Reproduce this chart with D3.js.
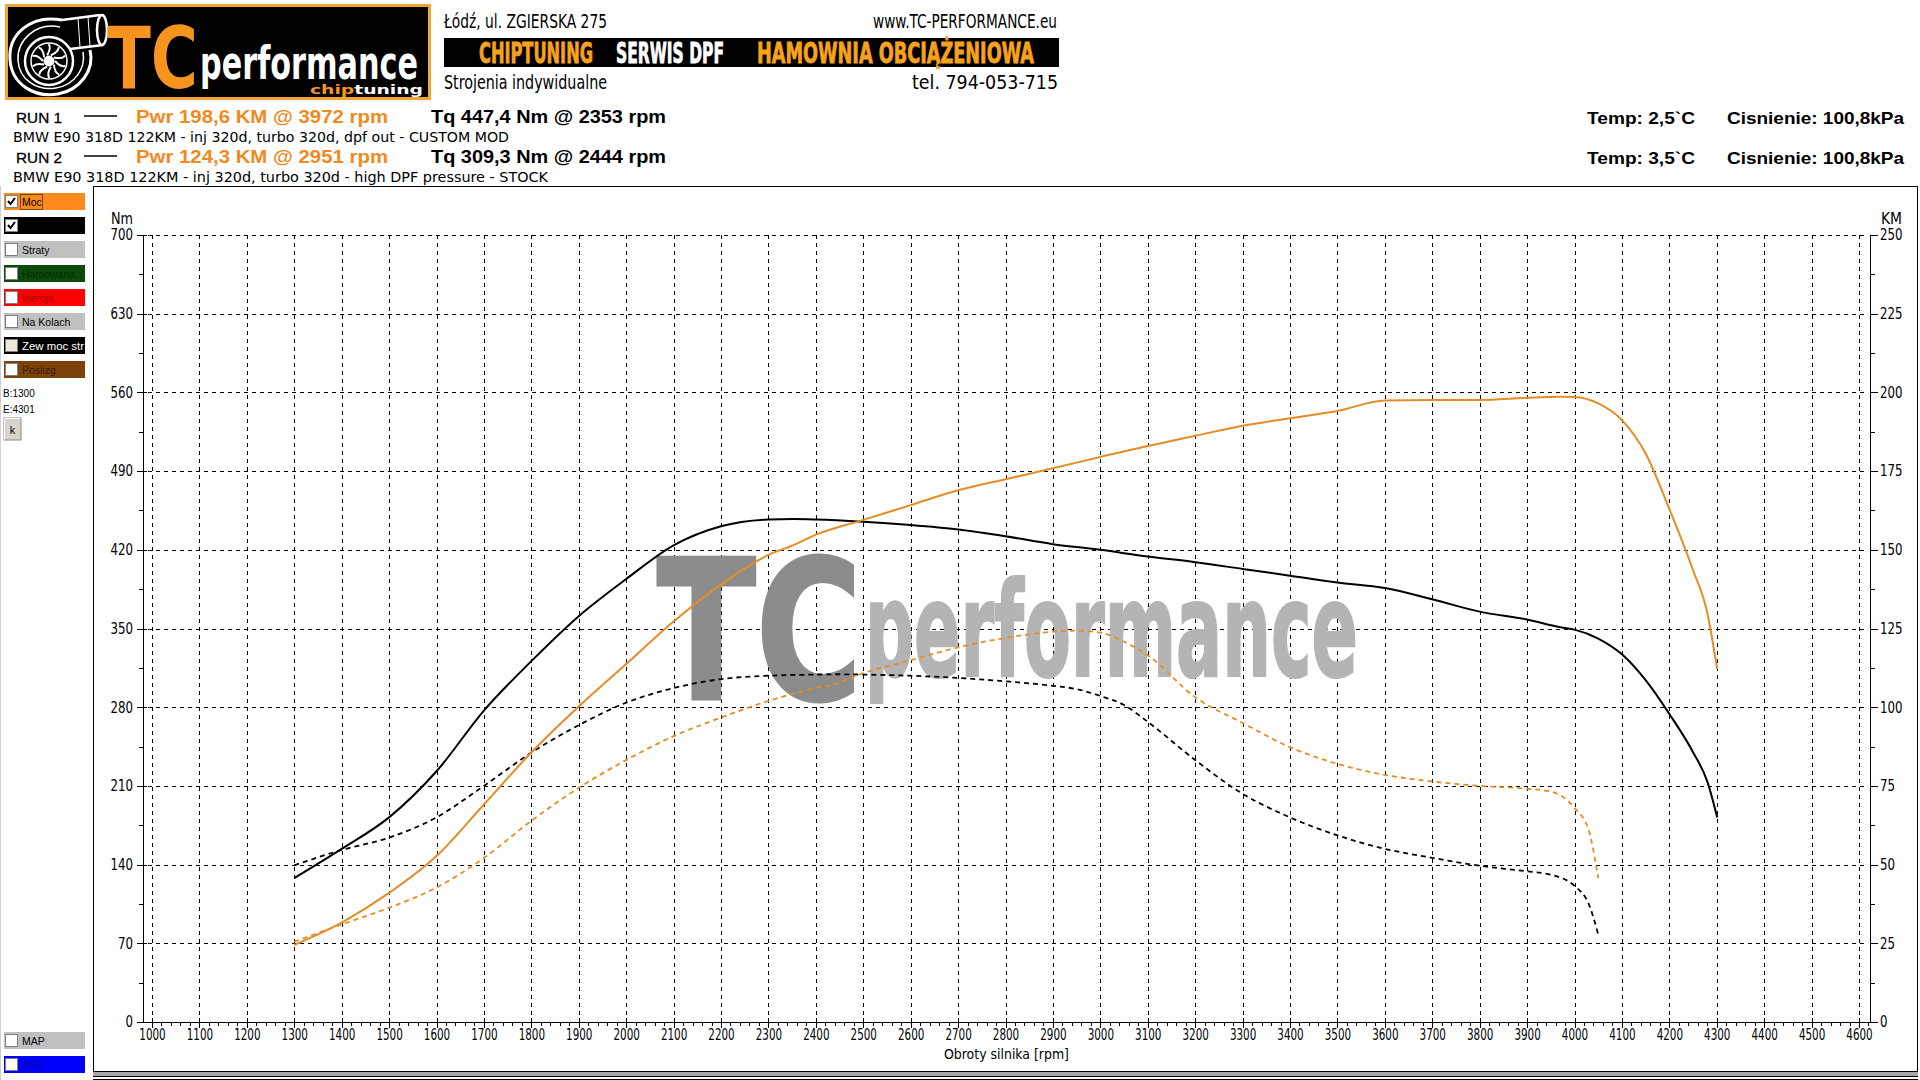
<!DOCTYPE html>
<html><head><meta charset="utf-8">
<script src="https://cdn.jsdelivr.net/npm/d3@7"></script>
<style>body{margin:0;background:#fff}svg{display:block}</style>
</head><body>
<svg id="c" width="1920" height="1080"></svg>
<script>
// ---------------- DATA ----------------
const run1Rpm   = [1300,1400,1500,1600,1700,1800,1900,2000,2100,2200,2300,2353,2400,2500,2600,2700,2800,2900,3000,3100,3200,3300,3400,3500,3600,3700,3800,3900,3972,4000,4050,4100,4150,4200,4250,4280,4301];
const run1Torque= [128,154,182,223,277,321,361,394,424,441,447,447.4,447,445,442,438,432,425,420,414,409,403,397,391,386,376,365,358,351,349,341,327,304,274,240,214,182];
const run1Power = [24.5,31.6,41.0,52.7,69.1,85.6,100.2,113.7,127.2,139.0,148.4,151.5,154.8,159.5,164.2,168.9,172.4,175.9,179.5,183.0,186.2,189.4,191.8,194.1,197.4,197.6,197.6,198.3,198.6,198.5,196.5,191.2,180.6,163.0,143.5,130.0,112.0];
const run2Rpm   = [1300,1400,1500,1600,1700,1800,1900,2000,2100,2200,2300,2400,2444,2500,2600,2700,2800,2900,2951,3000,3050,3100,3200,3300,3400,3500,3600,3700,3800,3900,3950,4000,4030,4050];
const run2Torque= [139.4,153,164,182,210,239.6,264,284,297,305,308,309,309.3,309,308,306,303,299,296,290,282,267,233,203,182,166,154,146,139,134,131,121,105,78];
const run2Power = [25.5,31,36.3,42.7,52.1,63.9,74.4,83.2,90.8,96.7,102,106.1,107.6,110.8,114.9,119,122,124,124.3,123.7,120.8,116.5,103.2,95,87.3,82,78.5,76.4,75,74.1,73.2,68,60.9,45.7];
const rpmTicks  = d3.range(1000,4601,100);
const rpmMinor  = d3.range(1000,4621,20).filter(v=>v%100!==0);
const nmTicks   = d3.range(0,701,70);
const nmMinor   = d3.range(35,700,70);
const kmTicks   = d3.range(0,251,25);
const kmMinor   = d3.range(12.5,250,25);
const checkLabels = ["Moc","","Straty","Hamowana","Inercja","Na Kolach","Zew moc str","Poslizg"];
const bottomChecks = ["MAP","AFR"];
const runNames  = ["RUN 1","RUN 2"];
const runPwr    = ["Pwr  198,6 KM @ 3972 rpm","Pwr  124,3 KM @ 2951 rpm"];
const runTq     = ["Tq 447,4 Nm @ 2353 rpm","Tq 309,3 Nm @ 2444 rpm"];
const runDesc   = ["BMW E90 318D 122KM - inj 320d, turbo 320d, dpf out - CUSTOM MOD","BMW E90 318D 122KM - inj 320d, turbo 320d - high DPF pressure  - STOCK"];
const runTemp   = ["Temp: 2,5`C","Temp: 3,5`C"];
const runPress  = ["Cisnienie: 100,8kPa","Cisnienie: 100,8kPa"];

// ---------------- SETUP ----------------
const svg = d3.select("#c");
svg.append("rect").attr("width",1920).attr("height",1080).attr("fill","#fff");
const NARROW = "'Liberation Sans Narrow','DejaVu Sans Condensed','Liberation Sans',Arial,sans-serif";
const ARIAL = "'Liberation Sans',Arial,sans-serif";
const COND = "'DejaVu Sans Condensed','DejaVu Sans',sans-serif";
function txt(g,x,y,s,o={}){
  const t=g.append("text").attr("x",x).attr("y",y).text(s)
    .attr("font-family",o.f||ARIAL).attr("font-size",o.s||12).attr("fill",o.c||"#000");
  if(o.b) t.attr("font-weight",o.b);
  if(o.a) t.attr("text-anchor",o.a);
  if(o.w) t.attr("textLength",o.w).attr("lengthAdjust","spacingAndGlyphs");
  return t;
}
const ORANGE="#e58c26";

// ---------------- HEADER / LOGO ----------------
const lg = svg.append("g");
lg.append("rect").attr("x",6.5).attr("y",5.5).attr("width",423).attr("height",93).attr("fill","#000").attr("stroke","#f0a43c").attr("stroke-width",3);
const tb = lg.append("g").attr("fill","none").attr("stroke","#fff");
tb.append("path").attr("d","M62,20 C30,14 8,35 10,60 C12,85 35,98 58,94 C80,90 95,70 90,50").attr("stroke-width",3);
tb.append("path").attr("d","M60,27 C36,22 17,40 18,60 C19,80 37,91 56,88 C75,85 86,68 83,52").attr("stroke-width",1.5);
tb.append("circle").attr("cx",49).attr("cy",61).attr("r",24).attr("stroke-width",2.5);
tb.append("circle").attr("cx",49).attr("cy",61).attr("r",18).attr("stroke-width",1.5);
d3.range(0,360,36).forEach(a=>{const r=a*Math.PI/180;
  tb.append("path").attr("d",`M${49+6*Math.cos(r)},${61+6*Math.sin(r)} Q${49+13*Math.cos(r+0.5)},${61+13*Math.sin(r+0.5)} ${49+17*Math.cos(r+0.3)},${61+17*Math.sin(r+0.3)}`).attr("stroke-width",2);});
tb.append("circle").attr("cx",49).attr("cy",61).attr("r",5).attr("fill","#fff");
tb.append("path").attr("d","M62,20 L100,15 M70,49 L103,45").attr("stroke-width",2.5);
tb.append("ellipse").attr("cx",102).attr("cy",30).attr("rx",5).attr("ry",15).attr("stroke-width",2.5);
tb.append("path").attr("d","M78,18 L80,47 M88,17 L90,46").attr("stroke-width",1);
txt(lg,107,88,"TC",{f:COND,s:86,b:"bold",c:"#f7941d",w:91});
txt(lg,200,79,"performance",{f:COND,s:47,b:"bold",c:"#fff",w:218});
const ct=txt(lg,310,94,"",{f:COND,s:13,b:"bold",c:"#f7941d",w:113});
ct.append("tspan").text("chip").attr("fill","#f7941d");
ct.append("tspan").text("tuning").attr("fill","#fff");

const hd = svg.append("g");
txt(hd,444,28,"Łódź, ul. ZGIERSKA 275",{f:COND,s:19,w:163});
txt(hd,873,28,"www.TC-PERFORMANCE.eu",{f:COND,s:19,w:184});
hd.append("rect").attr("x",444).attr("y",38).attr("width",615).attr("height",29).attr("fill","#000");
txt(hd,479,63,"CHIPTUNING",{f:COND,s:28,b:"bold",c:"#f7a21b",w:114}).attr("stroke","#f7a21b").attr("stroke-width",0.8);
txt(hd,616,63,"SERWIS DPF",{f:COND,s:28,b:"bold",c:"#fff",w:108}).attr("stroke","#fff").attr("stroke-width",0.8);
txt(hd,757,63,"HAMOWNIA OBCIĄŻENIOWA",{f:COND,s:28,b:"bold",c:"#f7a21b",w:277}).attr("stroke","#f7a21b").attr("stroke-width",0.8);
txt(hd,444,89,"Strojenia indywidualne",{f:COND,s:19,w:163});
txt(hd,912,89,"tel. 794-053-715",{f:COND,s:19,w:146});

[0,1].forEach(i=>{
  const by = i===0?123:163;
  txt(hd,16,by,runNames[i],{s:15,w:46}).attr("stroke","#000").attr("stroke-width",0.3);
  hd.append("line").attr("x1",84).attr("x2",117).attr("y1",by-7).attr("y2",by-7).attr("stroke","#000").attr("stroke-width",1.5);
  txt(hd,136,by,runPwr[i],{s:18,b:"bold",c:"#f08a1e",w:252});
  txt(hd,431,by,runTq[i],{s:18,b:"bold",w:235});
  txt(hd,13,by+19,runDesc[i],{f:NARROW,s:14,w:i===0?496:535});
  txt(hd,1587,by+1,runTemp[i],{s:17,b:"bold",w:108});
  txt(hd,1727,by+1,runPress[i],{s:17,b:"bold",w:177});
});

// ---------------- FRAME ----------------
const fr = svg.append("g").attr("stroke","#000").attr("shape-rendering","crispEdges");
fr.append("line").attr("x1",93.5).attr("x2",93.5).attr("y1",186).attr("y2",1072);
fr.append("line").attr("x1",93).attr("x2",1918).attr("y1",186.5).attr("y2",186.5);
fr.append("line").attr("x1",1917.5).attr("x2",1917.5).attr("y1",186).attr("y2",1072);
fr.append("line").attr("x1",93).attr("x2",1918).attr("y1",1071.5).attr("y2",1071.5);
svg.append("rect").attr("x",93).attr("y",1072).attr("width",1825).attr("height",4).attr("fill","#a8a8a8");
fr.append("line").attr("x1",93).attr("x2",1918).attr("y1",1076.5).attr("y2",1076.5);
fr.append("line").attr("x1",93).attr("x2",1918).attr("y1",1079.5).attr("y2",1079.5);
fr.append("line").attr("x1",0.5).attr("x2",0.5).attr("y1",186).attr("y2",1080).attr("stroke","#d0d0d0");

// ---------------- LEFT PANEL ----------------
const lp = svg.append("g");
const rowStyle = [
  {bg:"#ff8a1c",fg:"#000",chk:true},{bg:"#000",fg:"#fff",chk:true},{bg:"#c0c0c0",fg:"#000"},
  {bg:"#0b4a0b",fg:"#002a00"},{bg:"#ff0000",fg:"#a00000"},{bg:"#c0c0c0",fg:"#000"},
  {bg:"#000",fg:"#fff",dis:true},{bg:"#7c4308",fg:"#3a1a00"}];
function checkRow(y,label,st){
  lp.append("rect").attr("x",4).attr("y",y).attr("width",81).attr("height",17).attr("fill",st.bg);
  lp.append("rect").attr("x",5.5).attr("y",y+2.5).attr("width",12).attr("height",12).attr("fill",st.dis?"#ece9d8":"#fff").attr("stroke","#808080");
  if(st.chk) lp.append("path").attr("d",`M8,${y+8} L10.5,${y+11} L15,${y+5}`).attr("fill","none").attr("stroke","#000").attr("stroke-width",2);
  if(label) txt(lp,22,y+13,label,{s:10.5,c:st.fg,w:label==="Zew moc str"?62:undefined});
}
checkLabels.forEach((l,i)=>checkRow(193+i*24,l,rowStyle[i]));
lp.append("rect").attr("x",20.5).attr("y",194.5).attr("width",22).attr("height",15).attr("fill","none").attr("stroke","#000").attr("stroke-dasharray","1,1");
checkRow(1032,bottomChecks[0],{bg:"#c0c0c0",fg:"#000"});
checkRow(1056,bottomChecks[1],{bg:"#0000ff",fg:"#0000a0"});
txt(lp,3,397,"B:1300",{s:10});
txt(lp,3,413,"E:4301",{s:10});
lp.append("rect").attr("x",4).attr("y",418).attr("width",17).attr("height",22).attr("fill","#d8d4cc").attr("stroke","#888");
lp.append("path").attr("d","M4.5,439.5 V418.5 H20.5").attr("stroke","#fff").attr("fill","none");
txt(lp,12.5,434,"k",{s:11,a:"middle"});

// ---------------- CHART ----------------
const x = d3.scaleLinear().domain([1000,4600]).range([152,1859]);
const yNm = d3.scaleLinear().domain([0,700]).range([1022,235]);
const yKM = d3.scaleLinear().domain([0,250]).range([1022,235]);
const ch = svg.append("g");
const grid = ch.append("g").attr("stroke","#000").attr("stroke-width",1).attr("stroke-dasharray","4,4").attr("shape-rendering","crispEdges");
rpmTicks.forEach(v=>grid.append("line").attr("x1",Math.round(x(v))+0.5).attr("x2",Math.round(x(v))+0.5).attr("y1",235).attr("y2",1018));
nmTicks.filter(v=>v>0).forEach(v=>grid.append("line").attr("x1",148).attr("x2",1868).attr("y1",Math.round(yNm(v))+0.5).attr("y2",Math.round(yNm(v))+0.5));

txt(ch,657,699,"TC",{f:COND,s:194,b:"bold",c:"#8c8c8c",w:205}).attr("stroke","#8c8c8c").attr("stroke-width",3);
txt(ch,865,676,"performance",{f:COND,s:132,b:"bold",c:"#b4b4b4",w:493}).attr("stroke","#b4b4b4").attr("stroke-width",2);

function styleAxis(g,len){
  g.select(".domain").remove();
  g.selectAll("line").attr("stroke","#000").attr("shape-rendering","crispEdges");
  g.selectAll("text").attr("font-family",NARROW).attr("font-size",15).attr("fill","#000")
    .each(function(){const s=this.textContent; if(s) d3.select(this).attr("textLength",s.length*len).attr("lengthAdjust","spacingAndGlyphs");});
}
const gxb = ch.append("g").attr("transform","translate(0,1018)").call(d3.axisBottom(x).tickValues(rpmTicks).tickSize(10).tickPadding(1.5).tickFormat(d3.format("d")));
styleAxis(gxb,6.6);
const gxm = ch.append("g").attr("transform","translate(0,1022)").call(d3.axisBottom(x).tickValues(rpmMinor).tickSize(4).tickFormat(""));
styleAxis(gxm,0);
const gyl = ch.append("g").attr("transform","translate(147,0)").call(d3.axisLeft(yNm).tickValues(nmTicks).tickSize(10).tickPadding(4));
styleAxis(gyl,7.5);
const gylm = ch.append("g").attr("transform","translate(143,0)").call(d3.axisLeft(yNm).tickValues(nmMinor).tickSize(4).tickFormat(""));
styleAxis(gylm,0);
const gyr = ch.append("g").attr("transform","translate(1871,0)").call(d3.axisRight(yKM).tickValues(kmTicks).tickSize(7).tickPadding(2));
styleAxis(gyr,7.5);
const gyrm = ch.append("g").attr("transform","translate(1871,0)").call(d3.axisRight(yKM).tickValues(kmMinor).tickSize(4).tickFormat(""));
styleAxis(gyrm,0);
const ax = ch.append("g").attr("stroke","#000").attr("shape-rendering","crispEdges");
ax.append("line").attr("x1",143.5).attr("x2",143.5).attr("y1",235).attr("y2",1022);
ax.append("line").attr("x1",1870.5).attr("x2",1870.5).attr("y1",235).attr("y2",1022);
ax.append("line").attr("x1",137).attr("x2",1871).attr("y1",1022.5).attr("y2",1022.5);
txt(ch,111,224,"Nm",{f:NARROW,s:15,w:22});
txt(ch,1881,224,"KM",{f:NARROW,s:15,w:21});
txt(ch,944,1059,"Obroty silnika [rpm]",{f:NARROW,s:14,w:125});

const lineNm = d3.line().x(d=>x(d[0])).y(d=>yNm(d[1])).curve(d3.curveMonotoneX);
const lineKM = d3.line().x(d=>x(d[0])).y(d=>yKM(d[1])).curve(d3.curveMonotoneX);
const cv = ch.append("g").attr("fill","none");
cv.append("path").attr("d",lineNm(d3.zip(run2Rpm,run2Torque))).attr("stroke","#000").attr("stroke-width",1.8).attr("stroke-dasharray","5,4");
cv.append("path").attr("d",lineKM(d3.zip(run2Rpm,run2Power))).attr("stroke",ORANGE).attr("stroke-width",1.8).attr("stroke-dasharray","5,4");
cv.append("path").attr("d",lineNm(d3.zip(run1Rpm,run1Torque))).attr("stroke","#000").attr("stroke-width",2);
cv.append("path").attr("d",lineKM(d3.zip(run1Rpm,run1Power))).attr("stroke",ORANGE).attr("stroke-width",2);
</script>
</body></html>
